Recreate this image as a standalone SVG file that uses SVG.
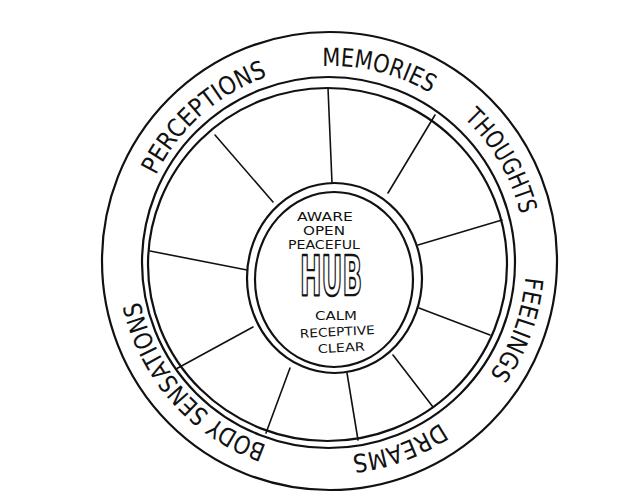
<svg xmlns="http://www.w3.org/2000/svg" xmlns:xlink="http://www.w3.org/1999/xlink" width="633" height="502" viewBox="0 0 633 502">
  <style>
    .ln { fill: none; stroke: #111; stroke-width: 2.2; stroke-linecap: round; }
    .sp { fill: none; stroke: #111; stroke-width: 1.6; stroke-linecap: round; }
    .ring { font-family: "DejaVu Sans", "Liberation Sans", sans-serif; font-size: 25px; fill: #111; }
    .hubt { font-family: "DejaVu Sans", "Liberation Sans", sans-serif; font-size: 12px; fill: #111; text-anchor: middle; }
    .big { font-family: "DejaVu Sans", "Liberation Sans", sans-serif; font-weight: bold; font-size: 55px; fill: #fff; stroke: #111; stroke-width: 2.4; stroke-linejoin: round; text-anchor: middle; }
  </style>
  <defs>
    <path id="rp" d="M 136 261 A 195 195 0 0 1 526 261 A 195 195 0 0 1 136 261"/>
  </defs>
  <rect width="633" height="502" fill="#fff"/>

  <g id="outer-ring">
    <ellipse class="ln" cx="329.5" cy="261" rx="227.5" ry="229"/>
  </g>

  <g id="wheel">
    <ellipse class="ln" cx="328.5" cy="262.5" rx="186.5" ry="185.5"/>
    <ellipse class="ln" cx="327.5" cy="264.5" rx="179.5" ry="176.5"/>
  </g>

  <g id="connectors">
    <line class="sp" x1="215" y1="135" x2="273" y2="202"/>
    <line class="sp" x1="328" y1="88" x2="332" y2="183"/>
    <line class="sp" x1="435" y1="115" x2="388" y2="193"/>
    <line class="sp" x1="418" y1="245" x2="502" y2="220"/>
    <line class="sp" x1="419" y1="308" x2="490" y2="335"/>
    <line class="sp" x1="393" y1="355" x2="433" y2="407"/>
    <line class="sp" x1="347" y1="373" x2="358" y2="440"/>
    <line class="sp" x1="290" y1="368" x2="266" y2="433"/>
    <line class="sp" x1="253" y1="327" x2="176" y2="369"/>
    <line class="sp" x1="247" y1="270" x2="150" y2="251"/>
  </g>

  <g id="hub">
    <ellipse class="ln" cx="334.5" cy="278" rx="87.5" ry="95"/>
    <ellipse class="ln" cx="334" cy="279.5" rx="79" ry="87.5"/>
    <text class="hubt" x="325" y="221" font-size="14" textLength="56" lengthAdjust="spacingAndGlyphs">AWARE</text>
    <text class="hubt" x="324" y="235" textLength="42" lengthAdjust="spacingAndGlyphs">OPEN</text>
    <text class="hubt" x="324" y="249" textLength="72" lengthAdjust="spacingAndGlyphs">PEACEFUL</text>
    <g opacity="0.99"><text class="big" x="331" y="295" textLength="62" lengthAdjust="spacingAndGlyphs">HUB</text></g>
    <text class="hubt" x="336" y="320" font-size="13" textLength="42" lengthAdjust="spacingAndGlyphs">CALM</text>
    <text class="hubt" x="337.5" y="336" font-size="13" textLength="75" lengthAdjust="spacingAndGlyphs" transform="rotate(-3 337.5 336)">RECEPTIVE</text>
    <text class="hubt" x="341.5" y="352" font-size="13" textLength="47" lengthAdjust="spacingAndGlyphs" transform="rotate(-3 341.5 352)">CLEAR</text>
  </g>

  <g id="label-perceptions"><text class="ring"><textPath href="#rp" xlink:href="#rp" startOffset="165" text-anchor="middle" textLength="153" lengthAdjust="spacingAndGlyphs">PERCEPTIONS</textPath></text></g>
  <g id="label-memories"><text class="ring"><textPath href="#rp" xlink:href="#rp" startOffset="354" text-anchor="middle" textLength="113" lengthAdjust="spacingAndGlyphs">MEMORIES</textPath></text></g>
  <g id="label-thoughts"><text class="ring"><textPath href="#rp" xlink:href="#rp" startOffset="509" text-anchor="middle" textLength="113" lengthAdjust="spacingAndGlyphs">THOUGHTS</textPath></text></g>
  <g id="label-feelings"><text class="ring"><textPath href="#rp" xlink:href="#rp" startOffset="681" text-anchor="middle" textLength="105" lengthAdjust="spacingAndGlyphs">FEELINGS</textPath></text></g>
  <g id="label-dreams"><text class="ring"><textPath href="#rp" xlink:href="#rp" startOffset="850" text-anchor="middle" textLength="95" lengthAdjust="spacingAndGlyphs">DREAMS</textPath></text></g>
  <g id="label-body-sensations"><text class="ring"><textPath href="#rp" xlink:href="#rp" startOffset="1084" text-anchor="middle" textLength="200" lengthAdjust="spacingAndGlyphs">BODY SENSATIONS</textPath></text></g>
</svg>
